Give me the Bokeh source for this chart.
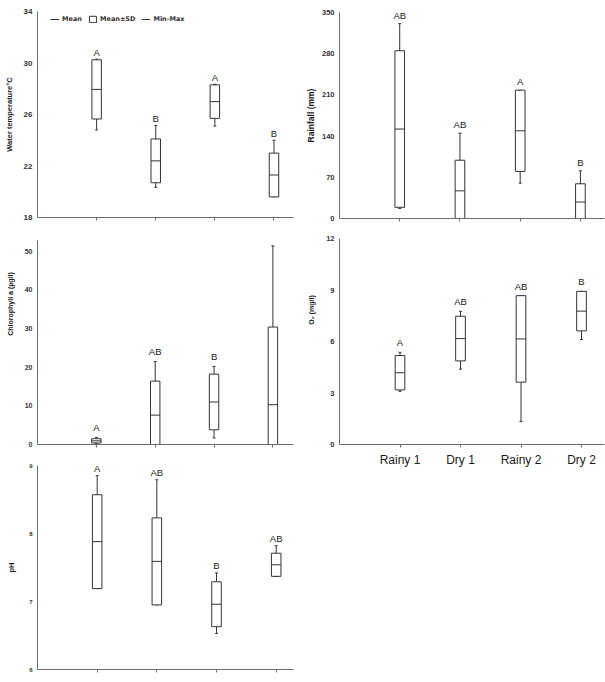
import numpy as np
from bokeh.plotting import figure
from bokeh.layouts import column, row
from bokeh.models import (FixedTicker, ColumnDataSource, LabelSet, Legend,
                          LegendItem, Range1d)
from bokeh.core.properties import value
from bokeh.embed import file_html
from bokeh.resources import INLINE

# Seasons (categories) and their axis positions
seasons = ["Rainy 1", "Dry 1", "Rainy 2", "Dry 2"]
positions = [1, 2, 3, 4]

# Water temperature (°C)
temp_mean = [27.95, 22.4, 27.0, 21.3]
temp_sd = [2.3, 1.7, 1.3, 1.7]
temp_min = [24.8, 20.35, 25.1, 19.6]
temp_max = [30.3, 25.15, 28.35, 24.0]
temp_groups = ["A", "B", "A", "B"]
temp_ticks = [18, 22, 26, 30, 34]

# Rainfall (mm)
rain_mean = [152, 47, 149, 28]
rain_sd = [133, 52, 69, 31]
rain_min = [17, 0, 60, 0]
rain_max = [331, 145, 218, 81]
rain_groups = ["AB", "AB", "A", "B"]
rain_ticks = [0, 70, 140, 210, 280, 350]

# Chlorophyll a (µg/l)
chl_mean = [0.95, 7.6, 11.0, 10.3]
chl_sd = [0.55, 8.8, 7.2, 20.1]
chl_min = [0.3, 0, 1.7, 0]
chl_max = [1.85, 21.5, 20.2, 51.4]
chl_groups = ["A", "AB", "B", "AB"]
chl_ticks = [0, 10, 20, 30, 40, 50]

# Dissolved oxygen (mg/l)
o2_mean = [4.18, 6.17, 6.15, 7.77]
o2_sd = [1.0, 1.3, 2.52, 1.15]
o2_min = [3.1, 4.39, 1.34, 6.11]
o2_max = [5.37, 7.76, 8.67, 8.92]
o2_groups = ["A", "AB", "AB", "B"]
o2_ticks = [0, 3, 6, 9, 12]

# pH
ph_mean = [7.88, 7.59, 6.96, 7.54]
ph_sd = [0.69, 0.64, 0.33, 0.17]
ph_min = [7.19, 6.95, 6.53, 7.37]
ph_max = [8.85, 8.79, 7.42, 7.82]
ph_groups = ["A", "AB", "B", "AB"]
ph_ticks = [6, 7, 8, 9]

INK = "#333333"
AXIS = "#6e6e6e"
FONT = "Liberation Sans"
HALF = 0.08   # half box width (category units)
CAP = 0.025   # half whisker-cap width
EM = "\u2003"  # em space, lifts a y title above the frame centre


def box_panel(width, height, borders, x_end, y_range, ticks, tick_size,
              mean, sd, vmin, vmax, groups, gap, title, title_size,
              title_standoff, title_lift=0, show_x_labels=False):
    left, right, top, bottom = borders
    p = figure(width=width, height=height, output_backend="svg",
               toolbar_location=None, x_range=Range1d(0, x_end),
               y_range=Range1d(*y_range), min_border_left=left,
               min_border_right=right, min_border_top=top,
               min_border_bottom=bottom, background_fill_color="white",
               border_fill_color="white")
    p.grid.visible = False
    p.outline_line_color = None

    # axes
    for ax in (p.xaxis[0], p.yaxis[0]):
        ax.axis_line_color = AXIS
        ax.axis_line_width = 1
        ax.minor_tick_line_color = None
    p.xaxis.ticker = FixedTicker(ticks=positions)
    p.xaxis.major_tick_line_color = AXIS
    p.xaxis.major_tick_out = 3
    p.xaxis.major_tick_in = 0
    if show_x_labels:
        p.xaxis.major_label_overrides = {k: s for k, s in zip(positions, seasons)}
        p.xaxis.major_label_text_font = FONT
        p.xaxis.major_label_text_font_size = "12px"
        p.xaxis.major_label_text_color = "#1a1a1a"
        p.xaxis.major_label_standoff = 5
    else:
        p.xaxis.major_label_overrides = {k: "" for k in positions}
        p.xaxis.major_label_text_font_size = "1px"
        p.xaxis.major_label_standoff = 0

    p.yaxis.ticker = FixedTicker(ticks=ticks)
    p.yaxis.major_tick_out = 0
    p.yaxis.major_tick_in = 0
    p.yaxis.major_tick_line_color = None
    p.yaxis.major_label_standoff = 5
    p.yaxis.major_label_text_font = FONT
    p.yaxis.major_label_text_font_style = "bold"
    p.yaxis.major_label_text_font_size = tick_size
    p.yaxis.major_label_text_color = INK

    # y title
    p.yaxis.axis_label = EM * title_lift + title
    p.yaxis.axis_label_standoff = title_standoff
    p.yaxis.axis_label_text_font = FONT
    p.yaxis.axis_label_text_font_style = "bold"
    p.yaxis.axis_label_text_font_size = title_size
    p.yaxis.axis_label_text_color = "#1a1a1a"

    x = np.array(positions, dtype=float)
    m = np.array(mean, dtype=float)
    s = np.array(sd, dtype=float)
    box_top = m + s
    box_bot = m - s
    hi = np.maximum(np.array(vmax, dtype=float), box_top)
    lo = np.minimum(np.array(vmin, dtype=float), box_bot)

    # whiskers (min-max) with small caps
    p.segment(x0=x, y0=box_top, x1=x, y1=hi, line_color=INK, line_width=1)
    p.segment(x0=x, y0=box_bot, x1=x, y1=lo, line_color=INK, line_width=1)
    p.segment(x0=x - CAP, y0=hi, x1=x + CAP, y1=hi, line_color=INK, line_width=1)
    p.segment(x0=x - CAP, y0=lo, x1=x + CAP, y1=lo, line_color=INK, line_width=1)
    # mean ± SD box
    boxes = p.quad(left=x - HALF, right=x + HALF, bottom=box_bot, top=box_top,
                   fill_color="white", line_color=INK, line_width=1)
    # mean line
    means = p.segment(x0=x - HALF, y0=m, x1=x + HALF, y1=m,
                      line_color=INK, line_width=1)

    # significance letters above the max whisker
    src = ColumnDataSource(dict(x=x, y=hi, t=groups))
    p.add_layout(LabelSet(x="x", y="y", text="t", source=src, y_offset=gap,
                          text_align="center", text_baseline="alphabetic",
                          text_font=value(FONT), text_font_size=value("9.5px"),
                          text_color=value("#1a1a1a")))
    return p, boxes, means


p1, b1, m1 = box_panel(300, 228, (37, 7, 11, 11), 4.33, (18, 34), temp_ticks, "8px",
                       temp_mean, temp_sd, temp_min, temp_max, temp_groups, 3.5,
                       "Water temperature°C", "7.5px", 7)
p2, _, _ = box_panel(305, 228, (39, 1, 12, 10), 4.4, (0, 350), rain_ticks, "7.5px",
                     rain_mean, rain_sd, rain_min, rain_max, rain_groups, 5,
                     "Rainfall (mm)", "8.5px", 3)
p3, _, _ = box_panel(300, 226, (37, 7, 12, 10), 4.35, (0, 52.8), chl_ticks, "7px",
                     chl_mean, chl_sd, chl_min, chl_max, chl_groups, 6,
                     "Chlorophyll a (µg/l)", "7px", 8, title_lift=11)
p4, _, _ = box_panel(305, 244, (39, 1, 10, 28), 4.38, (0, 12), o2_ticks, "7.5px",
                     o2_mean, o2_sd, o2_min, o2_max, o2_groups, 6,
                     "O₂ (mg/l)", "7px", 8, title_lift=9, show_x_labels=True)
p5, _, _ = box_panel(300, 228, (35, 7, 11, 13), 4.29, (6, 9), ph_ticks, "6px",
                     ph_mean, ph_sd, ph_min, ph_max, ph_groups, 3.5,
                     "pH", "7.5px", 10)

# season names under the pH panel, running off the bottom edge
season_src = ColumnDataSource(dict(x=positions, y=[ph_ticks[0]] * 4, t=seasons))
p5.add_layout(LabelSet(x="x", y="y", text="t", source=season_src, y_offset=-7,
                       text_align="center", text_baseline="top",
                       text_font=value(FONT), text_font_size=value("12px"),
                       text_color=value("#1a1a1a")))

# legend of the box symbols in the first panel; the min-max key is a
# vertical span placed left of the visible x range
whisker_key = p1.vspan(x=[-1], line_color=INK, line_width=1)
legend = Legend(items=[LegendItem(label="Mean", renderers=[m1]),
                       LegendItem(label="Mean±SD", renderers=[b1]),
                       LegendItem(label="Min-Max", renderers=[whisker_key])],
                orientation="horizontal", location=(13, 194),
                glyph_width=9, glyph_height=8, label_standoff=3, spacing=6,
                padding=0, margin=0, border_line_color=None,
                background_fill_alpha=0, label_text_font="DejaVu Sans",
                label_text_font_style="bold", label_text_font_size="6.5px",
                label_text_color=INK, label_height=8)
p1.add_layout(legend)

layout = row(column(p1, p3, p5), column(p2, p4))
open("out.html", "w").write(file_html(layout, INLINE))
